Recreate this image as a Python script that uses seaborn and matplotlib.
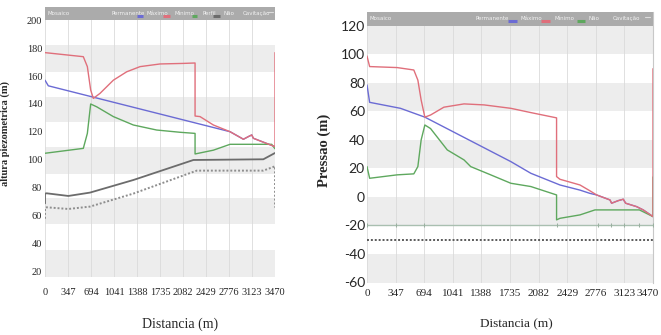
import numpy as np
import pandas as pd
import matplotlib
matplotlib.use("Agg")
import matplotlib.pyplot as plt
import matplotlib.transforms as mtransforms
import seaborn as sns

# ---- data -------------------------------------------------------------------
x_ticks = [0, 347, 694, 1041, 1388, 1735, 2082, 2429, 2776, 3123, 3470]

# left chart: altura piezometrica (m)
left_perm_x = [0, 50, 2792, 2968, 2993, 3068, 3119, 3144, 3470]
left_perm_y = [157, 153, 120.2, 115.5, 114.8, 116.7, 117.9, 115.5, 109.5]

left_max_x = [0, 578, 639, 689, 729, 830, 1031, 1232, 1434, 1735, 2087, 2264, 2264,
              2339, 2540, 2792, 2968, 2993, 3068, 3119, 3144, 3470, 3470]
left_max_y = [176.7, 173.8, 166.7, 150, 144, 147.6, 157, 163, 166.7, 168.6, 169, 169.3, 131.4,
              131, 125, 120.2, 115.5, 114.8, 116.7, 117.9, 115.5, 109.5, 176.7]

left_min_x = [0, 578, 639, 689, 780, 1031, 1333, 1685, 2037, 2264, 2264, 2540, 2792, 3420, 3470]
left_min_y = [104.8, 108.3, 119, 140, 138, 131, 125, 121.4, 119.8, 119, 104.3, 107, 111.2, 111.2, 108]

left_perfil_x = [0, 0, 25, 352, 679, 1333, 2239, 3294, 3470]
left_perfil_y = [69, 76, 76.2, 74.3, 76.7, 85.7, 100, 100.5, 105]

left_dot_x = [0, 0, 25, 352, 679, 1333, 2289, 3294, 3470, 3470]
left_dot_y = [58, 65.5, 66.2, 65, 66.7, 76, 92.4, 92.4, 95.5, 66]

left_yticks = [20, 40, 60, 80, 100, 120, 140, 160, 180, 200]

# right chart: Pressao (m)
right_perm_x = [0, 32, 406, 702, 1745, 1988, 2341, 2584, 2705, 2786, 2948, 2968, 3048,
                3109, 3138, 3271, 3351, 3470]
right_perm_y = [78.6, 66.4, 62.2, 56, 24.8, 16.6, 8.4, 4.8, 2.5, 1.4, -2.1, -4.4, -2.6,
                -1.6, -4.4, -6.8, -9.1, -13.8]

right_max_x = [0, 32, 365, 568, 617, 657, 702, 771, 933, 1177, 1420, 1745, 1988, 2300, 2300,
               2341, 2584, 2705, 2786, 2948, 2968, 3048, 3109, 3138, 3271, 3351, 3470, 3470]
right_max_y = [98.9, 91.5, 90.8, 89.1, 82, 68, 56, 57.5, 63, 65.3, 64.6, 62.2, 59.2, 55.5, 14.3,
               12.4, 8.4, 4.3, 1.4, -2.1, -4.4, -2.6, -1.6, -4.4, -6.8, -9.1, -13.8, 90]

right_min_x = [0, 32, 365, 568, 617, 657, 702, 771, 974, 1177, 1258, 1501, 1745, 1988, 2300,
               2300, 2341, 2584, 2766, 3305, 3470, 3470]
right_min_y = [21.3, 13.1, 15.5, 16.2, 21.3, 40, 50.5, 48, 33, 26, 21.3, 15.5, 9.6, 7.3, 1.4,
               -16.1, -15, -12.6, -9.1, -9.1, -13.8, 14]

right_perfil_x = [0, 347, 694, 2300, 2800, 2962, 3123, 3300, 3470]
right_perfil_y = [-19.6] * len(right_perfil_x)

right_dot_x = [0, 3470]
right_dot_y = [-30, -30]

right_yticks = [-60, -40, -20, 0, 20, 40, 60, 80, 100, 120]

# ---- style -----------------------------------------------------------------
sns.set_style("white")
plt.rcParams["axes.unicode_minus"] = False
plt.rcParams["font.family"] = ["Liberation Serif", "DejaVu Serif"]

BLUE, RED, GREEN, DARK = "#6b6bd4", "#e06f7b", "#5ea85e", "#6c6c6c"
BAND = "#ededed"
HEADER = "#ababab"

fig = plt.figure(figsize=(6.61, 3.35), dpi=100)
ax1 = fig.add_axes([45 / 661, 1 - 277 / 335, 230 / 661, 270 / 335])
ax2 = fig.add_axes([367 / 661, 1 - 283 / 335, 286 / 661, 271 / 335])


def draw_line(ax, x, y, color, ls="-", lw=1.0, z=3, **kw):
    sns.lineplot(x=x, y=y, ax=ax, color=color, linestyle=ls, linewidth=lw,
                 sort=False, estimator=None, zorder=z, **kw)


def header(ax, top, ylo, items, swatches, tail):
    ax.axhspan(ylo, top, color=HEADER, lw=0, zorder=10)
    yc = (ylo + top) / 2
    tr = ax.get_yaxis_transform()
    for label, xf in items:
        ax.text(xf, yc, label, transform=tr, fontsize=4, color="#f2f2f2",
                va="center", ha="left", family="DejaVu Sans", zorder=11)
    for col, x0, x1 in swatches:
        ax.plot([x0, x1], [yc - (top - ylo) * 0.18] * 2, transform=tr, color=col,
                lw=2.2, solid_capstyle="butt", zorder=11)
    ax.plot(tail, [yc + (top - ylo) * 0.15] * 2, transform=tr, color="#dcdcdc",
            lw=0.8, zorder=11)


def base(ax, ylim, bands):
    ax.set_xlim(0, 3470)
    ax.set_ylim(*ylim)
    for lo, hi in bands:
        ax.axhspan(lo, hi, color=BAND, lw=0, zorder=0)
    for xt in x_ticks:
        ax.axvline(xt, color="#dadada", lw=0.6, zorder=0.5)
    for s in ax.spines.values():
        s.set_visible(False)
    ax.set_xticks(x_ticks)
    ax.tick_params(length=0)


# ---- left chart ---------------------------------------------------------------
base(ax1, (16.4, 209.3), [(163, 182), (127, 145), (90, 109), (54, 73), (16.4, 36)])
draw_line(ax1, left_dot_x, left_dot_y, "#8e8e8e", ls=(0, (1, 1)), lw=1.4)
draw_line(ax1, left_perfil_x, left_perfil_y, DARK, lw=1.3)
draw_line(ax1, left_perm_x, left_perm_y, BLUE)
draw_line(ax1, left_min_x, left_min_y, GREEN)
draw_line(ax1, left_max_x, left_max_y, RED)
ax1.set_yticks(left_yticks)
ax1.set_xticklabels([str(t) for t in x_ticks], fontsize=7.5)
ax1.set_yticklabels([str(t) for t in left_yticks], fontsize=7.5)
ax1.tick_params(axis="x", pad=8)
ax1.tick_params(axis="y", pad=2)
ax1.set_xlabel("Distancia (m)", fontsize=10)
ax1.xaxis.set_label_coords(0.587, -0.15)
ax1.set_ylabel("altura piezometrica (m)", fontsize=7.5, fontweight="bold")
ax1.yaxis.set_label_coords(-0.15, 0.53)
header(ax1, 209.3, 200,
       [("Mosaico", 0.009), ("Permanente", 0.291), ("Máximo", 0.443), ("Mínimo", 0.565),
        ("Perfil", 0.683), ("Não", 0.774), ("Cavitação", 0.861)],
       [(BLUE, 0.40, 0.426), (RED, 0.513, 0.543), (GREEN, 0.639, 0.661), (DARK, 0.730, 0.761)],
       [0.965, 0.991])

# ---- right chart --------------------------------------------------------------
base(ax2, (-60.4, 129.8), [(100, 120), (60, 80), (20, 40), (-20, 0), (-60.4, -40)])
draw_line(ax2, right_dot_x, right_dot_y, "#5a5a5a", ls=(0, (1, 1)), lw=1.4)
draw_line(ax2, right_perfil_x, right_perfil_y, "#a9bfb0", lw=1.0,
          marker="|", markersize=3, markeredgecolor="#9ab0a0")
draw_line(ax2, right_perm_x, right_perm_y, BLUE)
draw_line(ax2, right_min_x, right_min_y, GREEN)
draw_line(ax2, right_max_x, right_max_y, RED)
ax2.spines["right"].set_visible(True)
ax2.spines["right"].set_color("#c8c8c8")
ax2.set_yticks(right_yticks)
ax2.set_xticklabels([str(t) for t in x_ticks], fontsize=8)
ax2.set_yticklabels([str(t) for t in right_yticks], fontsize=10, family="Lato")
ax2.tick_params(axis="x", pad=4)
ax2.tick_params(axis="y", pad=1.5)
# keep the last distance label inside the figure
last = ax2.get_xticklabels()[-1]
last.set_transform(last.get_transform() +
                   mtransforms.ScaledTranslation(-5 / 100, 0, fig.dpi_scale_trans))
ax2.set_xlabel("Distancia (m)", fontsize=9.5)
ax2.xaxis.set_label_coords(0.524, -0.13)
ax2.set_ylabel("Pressao (m)", fontsize=10.5, fontweight="bold")
ax2.yaxis.set_label_coords(-0.126, 0.49)
header(ax2, 129.8, 120,
       [("Mosaico", 0.01), ("Permanente", 0.378), ("Máximo", 0.535), ("Mínimo", 0.657),
        ("Não", 0.773), ("Cavitação", 0.86)],
       [(BLUE, 0.493, 0.524), (RED, 0.61, 0.64), (GREEN, 0.734, 0.762)],
       [0.972, 0.99])

fig.savefig("out.png", dpi=100)
plt.close(fig)
